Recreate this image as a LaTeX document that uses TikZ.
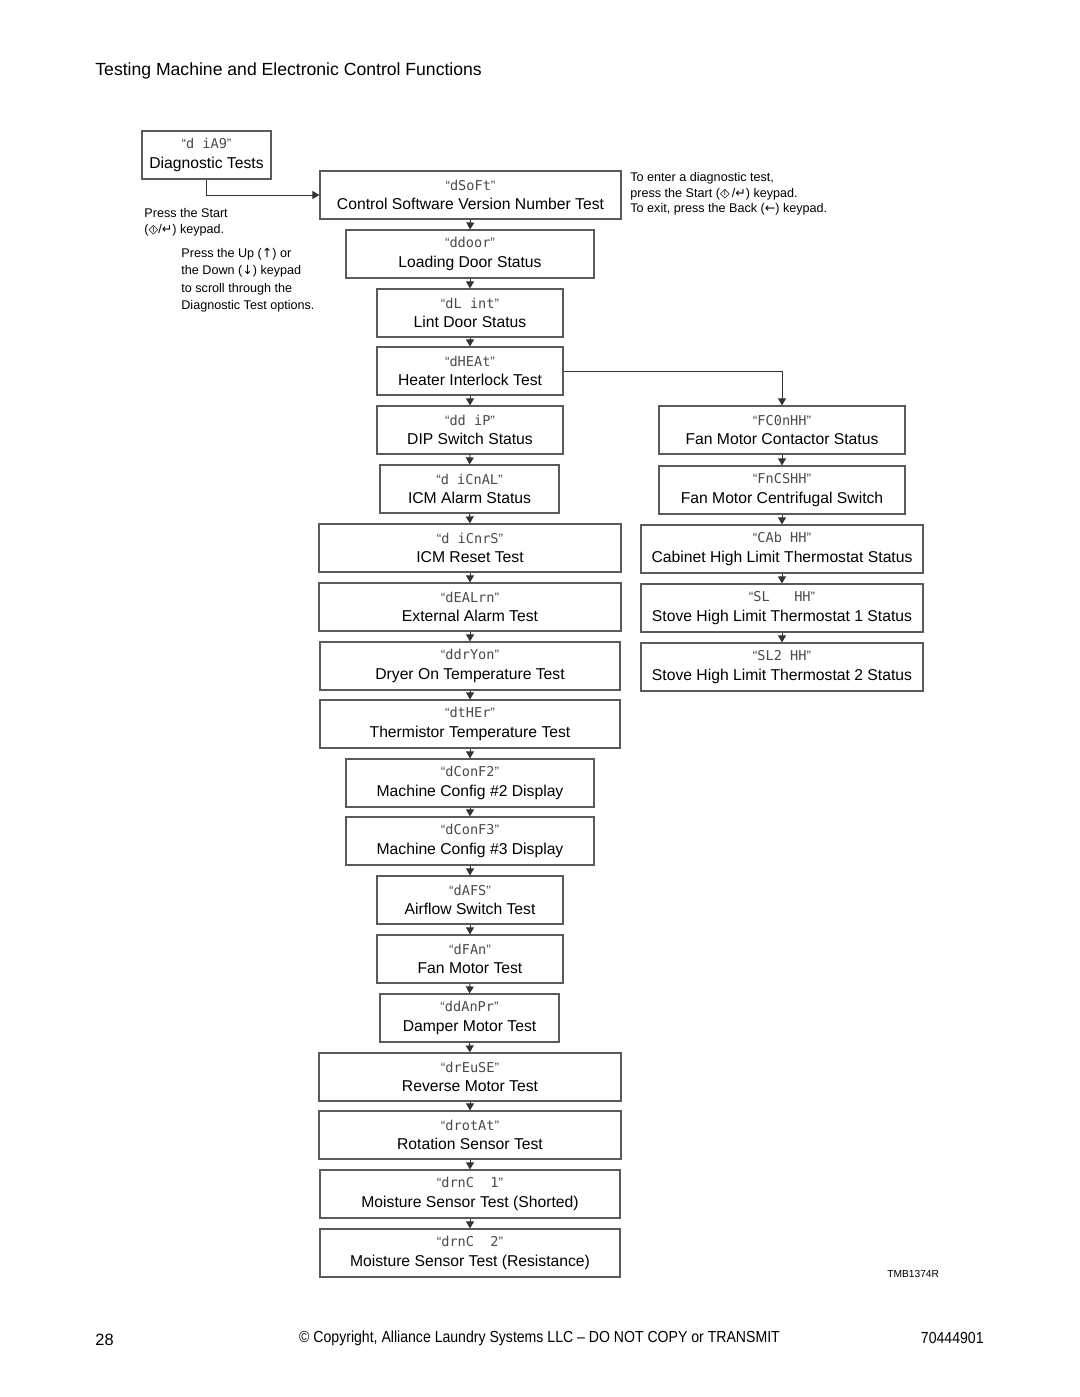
\documentclass[tikz,border=0pt]{standalone}
\usepackage{fontspec}
\setmainfont{Liberation Sans}
\newfontfamily\segfont{DejaVu Sans Mono}
\newfontfamily\symfont{DejaVu Sans}
\newfontfamily\narrowfont[FakeStretch=0.88]{Liberation Sans}
\usetikzlibrary{arrows.meta, positioning}
\definecolor{BoxGray}{HTML}{5A5A5A}
\definecolor{SegGray}{HTML}{4A4A4A}
% display code line of a box
\newcommand{\code}[1]{{\fontsize{6.8}{9.6}\selectfont\color{SegGray}“{\segfont #1}”}\\}
\newcommand{\startkey}{{\symfont\makebox[0pt][l]{◇}\makebox[\fontcharwd\font`◇]{\raisebox{0.12em}{\fontsize{3.6}{4}\selectfont I}}}}
\newcommand{\sym}[1]{{\symfont #1}}

\begin{document}
\begin{tikzpicture}[
    x=0.5pt, y=-0.5pt, font=\fontsize{7.85}{9.6}\selectfont,
    box/.style={draw=BoxGray, line width=0.6pt, align=center, inner sep=0pt, minimum height=24pt},
    note/.style={align=left, inner sep=0pt, font=\fontsize{6.3}{7.75}\selectfont},
    arr/.style={draw=black!80, line width=0.5pt, -{Triangle[length=3.5pt,width=4pt]}},
  ]
  \useasboundingbox (0,0) rectangle (1080,1397);
  \node[anchor=west, inner sep=0pt, font=\fontsize{8.8}{10}\selectfont] (title) at (95,71) {Testing Machine and Electronic Control Functions};

  % left column of tests
  \node[box, minimum width=64.5pt] (diag) at (206.5,155) {\code{d iA9}Diagnostic Tests};
  \node[box, minimum width=150.5pt] (soft) at (470.5,195) {\code{dSoFt}Control Software Version Number Test};
  \node[box, minimum width=124pt] (door) at (470,254) {\code{ddoor}Loading Door Status};
  \node[box, minimum width=93pt] (lint) at (470,313) {\code{dL int}Lint Door Status};
  \node[box, minimum width=93pt] (heat) at (470,371) {\code{dHEAt}Heater Interlock Test};
  \node[box, minimum width=93pt] (dip) at (470,430) {\code{dd iP}DIP Switch Status};
  \node[box, minimum width=89.5pt] (icmA) at (469.5,489) {\code{d iCnAL}ICM Alarm Status};
  \node[box, minimum width=151pt] (icmR) at (470,548) {\code{d iCnrS}ICM Reset Test};
  \node[box, minimum width=151pt] (extA) at (470,607) {\code{dEALrn}External Alarm Test};
  \node[box, minimum width=150pt] (dryOn) at (470,666) {\code{ddrYon}Dryer On Temperature Test};
  \node[box, minimum width=150pt] (therm) at (470,724) {\code{dtHEr}Thermistor Temperature Test};
  \node[box, minimum width=124pt] (cfgII) at (470,783) {\code{dConF2}Machine Config \#2 Display};
  \node[box, minimum width=124pt] (cfgIII) at (470,841) {\code{dConF3}Machine Config \#3 Display};
  \node[box, minimum width=93pt] (afs) at (470,900) {\code{dAFS}Airflow Switch Test};
  \node[box, minimum width=93pt] (fan) at (470,959) {\code{dFAn}Fan Motor Test};
  \node[box, minimum width=89.5pt] (damper) at (469.5,1018) {\code{ddAnPr}Damper Motor Test};
  \node[box, minimum width=151pt] (rev) at (470,1077) {\code{drEuSE}Reverse Motor Test};
  \node[box, minimum width=151pt] (rot) at (470,1135) {\code{drotAt}Rotation Sensor Test};
  \node[box, minimum width=150pt] (moistI) at (470,1194) {\code{drnC~~1}Moisture Sensor Test (Shorted)};
  \node[box, minimum width=150pt] (moistII) at (470,1253) {\code{drnC~~2}Moisture Sensor Test (Resistance)};

  % heater branch
  \node[box, minimum width=123pt] (fcon) at (782,430) {\code{FC0nHH}Fan Motor Contactor Status};
  \node[box, minimum width=123pt] (fcs) at (782,490) {\code{FnCSHH}Fan Motor Centrifugal Switch};
  \node[box, minimum width=141pt] (cab) at (782,549) {\code{CAb~HH}Cabinet High Limit Thermostat Status};
  \node[box, minimum width=141pt] (stoveI) at (782,608) {\code{SL~~~HH}Stove High Limit Thermostat 1 Status};
  \node[box, minimum width=141pt] (stoveII) at (782,667) {\code{SL2~HH}Stove High Limit Thermostat 2 Status};

  \draw[arr] (diag.south) |- (soft.west);
  \draw[arr] (heat.east) -| (fcon.north);
  \foreach \a/\b in {soft/door, door/lint, lint/heat, heat/dip, dip/icmA, icmA/icmR, icmR/extA,
      extA/dryOn, dryOn/therm, therm/cfgII, cfgII/cfgIII, cfgIII/afs, afs/fan, fan/damper,
      damper/rev, rev/rot, rot/moistI, moistI/moistII, fcon/fcs, fcs/cab, cab/stoveI, stoveI/stoveII}
    \draw[arr] (\a.south) -- (\b.north);

  % notes
  \node[note, anchor=north west] (enter) at (630,172) {To enter a diagnostic test,\\press the Start (\startkey\,/\sym{↵}) keypad.\\To exit, press the Back (\sym{←}) keypad.};
  \node[note, anchor=north west, font=\fontsize{6.3}{8}\selectfont] (start) at (144,208) {Press the Start\\(\startkey/\sym{↵}) keypad.};
  \node[note, anchor=north west, font=\fontsize{6.3}{8.65}\selectfont] (scroll) at (181,248) {Press the Up (\sym{↑}) or\\the Down (\sym{↓}) keypad\\to scroll through the\\Diagnostic Test options.};
  \node[anchor=west, inner sep=0pt, font=\fontsize{5.1}{6}\selectfont] (tmb) at (887,1274) {TMB1374R};

  % footer
  \node[anchor=west, inner sep=0pt, font=\fontsize{8.2}{10}\selectfont] (page) at (95,1340) {28};
  \node[inner sep=0pt, font=\narrowfont\fontsize{8}{10}\selectfont] (copy) at (539.5,1338) {© Copyright, Alliance Laundry Systems LLC – DO NOT COPY or TRANSMIT};
  \node[anchor=east, inner sep=0pt, font=\narrowfont\fontsize{8}{10}\selectfont] (docno) at (984,1338) {70444901};
\end{tikzpicture}
\end{document}
